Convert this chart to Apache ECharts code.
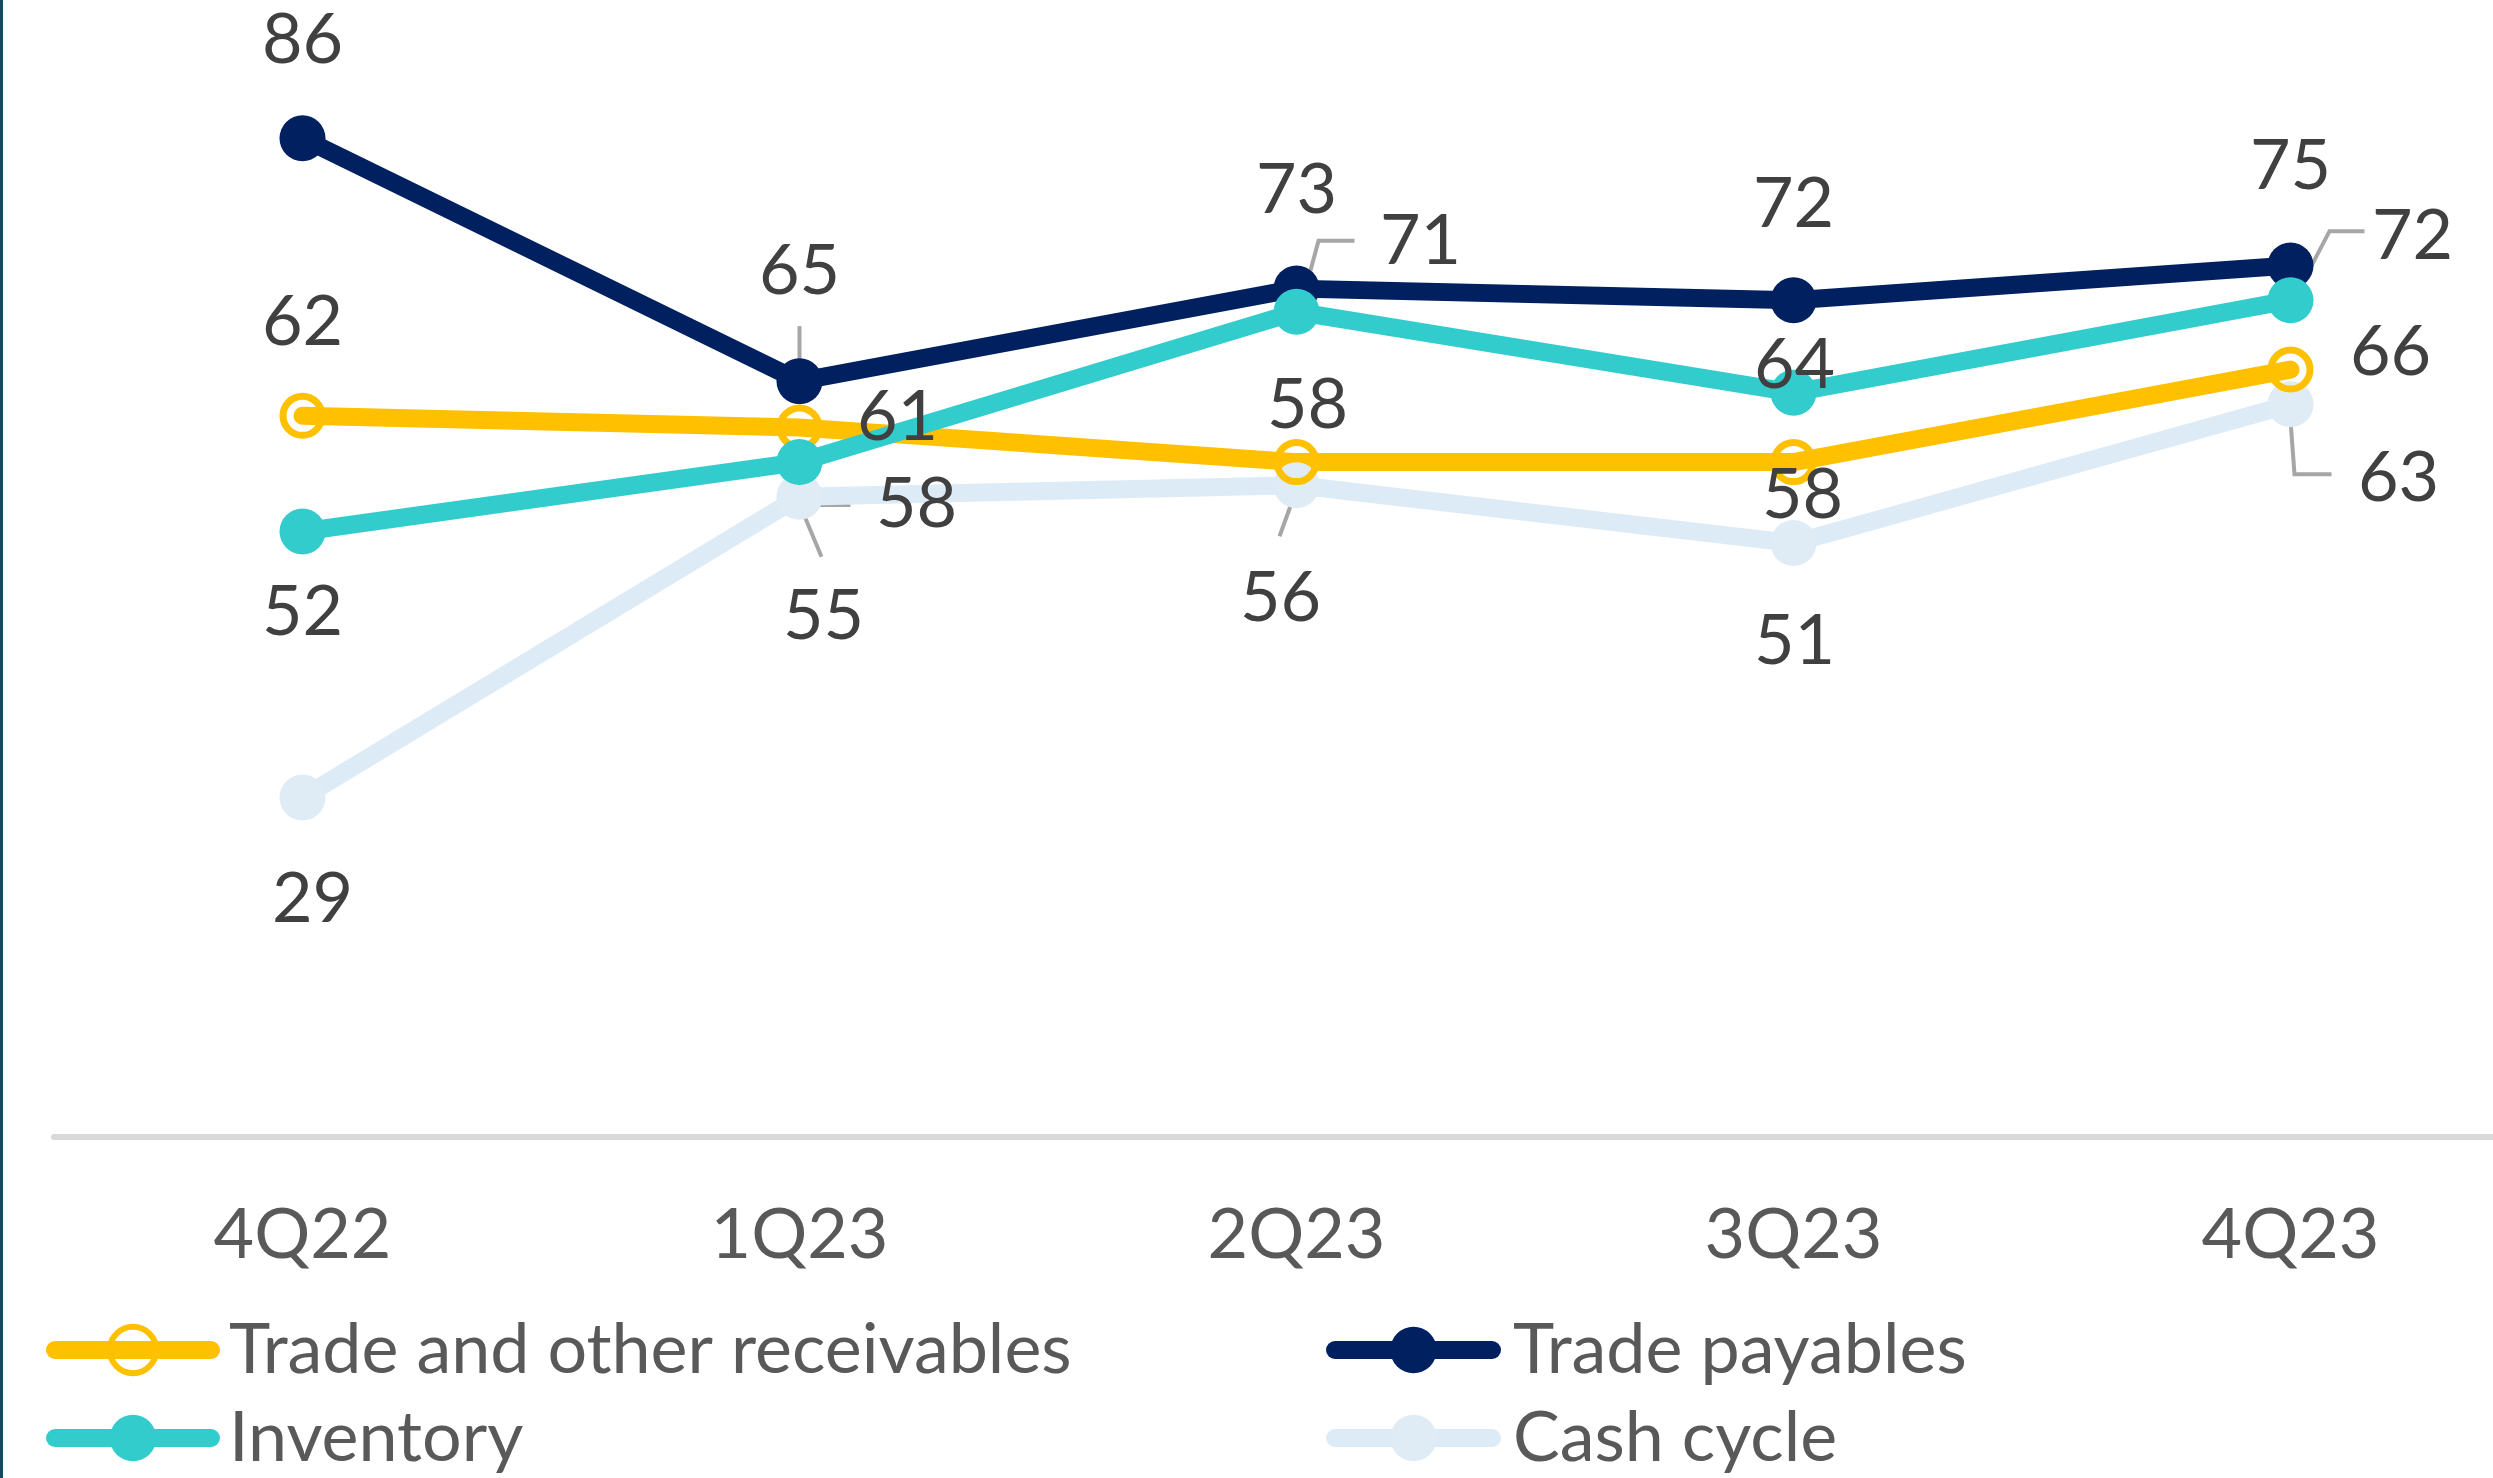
<!DOCTYPE html>
<html><head><meta charset="utf-8">
<script src="https://cdn.jsdelivr.net/npm/echarts@6/dist/echarts.min.js"></script>
<style>html,body{margin:0;padding:0;background:#fff;overflow:hidden;width:2493px;height:1478px}#c{width:2545px;height:1478px}</style>
</head><body><div id="c"></div>
<script>
// ---- data ----
const categories = ['4Q22', '1Q23', '2Q23', '3Q23', '4Q23'];
const receivables = [62, 61, 58, 58, 66];
const payables = [86, 65, 73, 72, 75];
const inventory = [52, 58, 71, 64, 72];
const cashCycle = [29, 55, 56, 51, 63];

const NAME_REC = 'Trade and other receivables';
const NAME_PAY = 'Trade payables';
const NAME_INV = 'Inventory';
const NAME_CASH = 'Cash cycle';

// ---- label placement (pixel offsets from each point) ----
const recOff = [[0, -93], [98, -10], [11, -57], [9, 33], [100, -17]];
const invOff = [[0, 81], [117, 42], [124, -70], [1, -27], [122, -64]];
const payOff = [[0, -98], [0, -110], [0, -98], [0, -96], [0, -99]];
const cashOff = [[10, 102], [24, 120], [-16, 113], [1, 98], [108, 74]];

// leader lines: which series/category, and polyline offsets from the point
const leaders = [
  { vals: payables, i: 1, pts: [[0, -55], [0, -3]] },
  { vals: inventory, i: 1, pts: [[-2, 5], [15, 43], [51, 43]] },
  { vals: cashCycle, i: 1, pts: [[-1, 5], [22, 60]] },
  { vals: inventory, i: 2, pts: [[1, 7], [22, -71], [58, -71]] },
  { vals: cashCycle, i: 2, pts: [[-1, 7], [-17, 51]] },
  { vals: inventory, i: 4, pts: [[0, 6], [39, -69], [74, -69]] },
  { vals: cashCycle, i: 4, pts: [[0, 16], [4, 70], [41, 70]] }
];

const FONT = 'Lato, "Open Sans", sans-serif';
const FS = 70;
const C_REC = '#FFC000', C_PAY = '#002060', C_INV = '#33CCCC', C_CASH = '#DDEBF7';

function items(vals, offs) {
  return vals.map((v, i) => ({ value: v, label: { offset: offs[i] } }));
}
const baseLabel = { show: true, position: 'inside', color: '#404040', fontSize: FS, fontFamily: FONT };

function legendOne(name, left, top, w, pad, itemStyle, lineColor) {
  return {
    orient: 'horizontal', left: left, top: top, itemWidth: w, itemHeight: 58, padding: 0,
    textStyle: { fontSize: FS, color: '#595959', fontFamily: FONT, padding: [0, 0, 0, pad] },
    data: [{ name: name, itemStyle: itemStyle, lineStyle: { color: lineColor, width: 18, cap: 'round' } }]
  };
}

const chart = echarts.init(document.getElementById('c'), null, { renderer: 'canvas' });
chart.setOption({
  animation: false,
  backgroundColor: '#ffffff',
  graphic: [
    { type: 'rect', left: 0, top: 0, shape: { width: 3, height: 1478 }, style: { fill: '#0F4C5C' }, z: 100 }
  ],
  grid: { left: 54, top: 92, width: 2485, height: 1045 },
  xAxis: {
    type: 'category', data: categories, boundaryGap: true,
    axisLine: { onZero: false, lineStyle: { color: '#D9D9D9', width: 6 } },
    axisTick: { show: false },
    axisLabel: { fontSize: FS, color: '#595959', fontFamily: FONT, margin: 63 },
    splitLine: { show: false }
  },
  yAxis: { type: 'value', min: -0.35, max: 90, show: false, splitLine: { show: false } },
  legend: [
    legendOne(NAME_REC, 46, 1315, 156, 13, { color: 'rgba(255,255,255,0)', borderColor: C_REC, borderWidth: 6 }, C_REC),
    legendOne(NAME_INV, 46, 1403, 156, 13, { color: C_INV, borderWidth: 0 }, C_INV),
    legendOne(NAME_PAY, 1326, 1315, 157, 16, { color: C_PAY, borderWidth: 0 }, C_PAY),
    legendOne(NAME_CASH, 1326, 1403, 157, 16, { color: '#E0ECF5', borderWidth: 0 }, C_CASH)
  ],
  series: [
    {
      name: NAME_CASH, type: 'line', data: items(cashCycle, cashOff),
      symbol: 'circle', symbolSize: 46,
      itemStyle: { color: '#E0ECF5' },
      lineStyle: { color: C_CASH, width: 18, cap: 'round' },
      label: baseLabel
    },
    {
      name: NAME_PAY, type: 'line', data: items(payables, payOff),
      symbol: 'circle', symbolSize: 46,
      itemStyle: { color: C_PAY },
      lineStyle: { color: C_PAY, width: 18, cap: 'round' },
      label: baseLabel
    },
    {
      name: NAME_REC, type: 'line', data: items(receivables, recOff),
      symbol: 'circle', symbolSize: 39,
      itemStyle: { color: 'rgba(255,255,255,0)', borderColor: C_REC, borderWidth: 7 },
      lineStyle: { color: C_REC, width: 18, cap: 'round' },
      label: baseLabel
    },
    {
      name: NAME_INV, type: 'line', data: items(inventory, invOff),
      symbol: 'circle', symbolSize: 46,
      itemStyle: { color: C_INV },
      lineStyle: { color: C_INV, width: 18, cap: 'round' },
      label: baseLabel
    },
    {
      type: 'custom', coordinateSystem: 'cartesian2d', clip: false, silent: true, z: 3,
      data: leaders.map(l => [l.i, l.vals[l.i]]),
      renderItem: function (params, api) {
        const l = leaders[params.dataIndex];
        const p = api.coord([api.value(0), api.value(1)]);
        return {
          type: 'polyline',
          shape: { points: l.pts.map(d => [p[0] + d[0], p[1] + d[1]]) },
          style: { stroke: '#A6A6A6', lineWidth: 4, fill: null }
        };
      }
    }
  ]
});
</script>
</body></html>
